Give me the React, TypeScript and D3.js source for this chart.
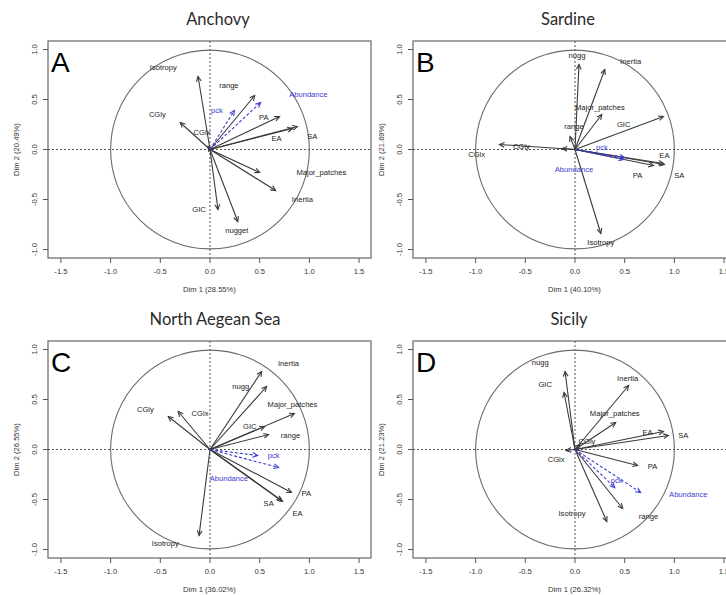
import React from "react";
import * as d3 from "d3";

// Variable factor maps (PCA correlation circles) for four sub-areas.
// Each row: name, arrow tip (Dim1, Dim2), label position (Dim1, Dim2).
type Row = [string, number, number, number, number];

const ANCHOVY: Row[] = [
  ["Isotropy", -0.12, 0.73, -0.47, 0.82],
  ["range", 0.45, 0.54, 0.19, 0.64],
  ["CGly", -0.30, 0.27, -0.53, 0.35],
  ["CGlx", -0.02, 0.03, -0.08, 0.17],
  ["PA", 0.70, 0.33, 0.54, 0.32],
  ["EA", 0.83, 0.21, 0.67, 0.11],
  ["SA", 0.88, 0.23, 1.03, 0.13],
  ["Major_patches", 0.50, -0.23, 1.12, -0.23],
  ["Inertia", 0.66, -0.41, 0.93, -0.50],
  ["GIC", 0.08, -0.60, -0.11, -0.60],
  ["nugget", 0.28, -0.72, 0.27, -0.81],
];
const ANCHOVY_SUP: Row[] = [
  ["pck", 0.245, 0.39, 0.07, 0.39],
  ["Abundance", 0.51, 0.47, 0.99, 0.55],
];

const SARDINE: Row[] = [
  ["nugg", 0.04, 0.85, 0.02, 0.94],
  ["Inertia", 0.30, 0.80, 0.56, 0.88],
  ["Major_patches", 0.27, 0.35, 0.25, 0.42],
  ["range", -0.05, 0.13, -0.01, 0.23],
  ["GIC", 0.89, 0.33, 0.49, 0.25],
  ["CGly", -0.76, 0.05, -0.54, 0.03],
  ["CGlx", -0.13, 0.01, -0.99, -0.05],
  ["EA", 0.90, -0.15, 0.90, -0.06],
  ["PA", 0.79, -0.16, 0.63, -0.26],
  ["SA", 0.89, -0.14, 1.05, -0.26],
  ["Isotropy", 0.26, -0.84, 0.26, -0.93],
];
const SARDINE_SUP: Row[] = [
  ["pck", 0.49, -0.10, 0.27, 0.02],
  ["Abundance", 0.50, -0.08, -0.01, -0.20],
];

const AEGEAN: Row[] = [
  ["Inertia", 0.52, 0.78, 0.79, 0.86],
  ["nugg", 0.57, 0.63, 0.31, 0.63],
  ["Major_patches", 0.85, 0.36, 0.83, 0.45],
  ["GIC", 0.55, 0.23, 0.40, 0.23],
  ["range", 0.59, 0.15, 0.81, 0.14],
  ["CGly", -0.42, 0.33, -0.65, 0.40],
  ["CGlx", -0.32, 0.38, -0.10, 0.36],
  ["PA", 0.82, -0.43, 0.97, -0.44],
  ["SA", 0.73, -0.52, 0.59, -0.54],
  ["EA", 0.72, -0.51, 0.88, -0.64],
  ["Isotropy", -0.11, -0.86, -0.45, -0.94],
];
const AEGEAN_SUP: Row[] = [
  ["pck", 0.48, -0.06, 0.64, -0.06],
  ["Abundance", 0.69, -0.18, 0.19, -0.29],
];

const SICILY: Row[] = [
  ["nugg", -0.10, 0.78, -0.35, 0.87],
  ["GIC", -0.11, 0.57, -0.30, 0.65],
  ["Inertia", 0.54, 0.64, 0.53, 0.71],
  ["Major_patches", 0.41, 0.27, 0.40, 0.36],
  ["EA", 0.89, 0.18, 0.73, 0.17],
  ["SA", 0.94, 0.14, 1.09, 0.14],
  ["CGly", 0.05, 0.05, 0.12, 0.08],
  ["CGlx", -0.09, -0.01, -0.19, -0.10],
  ["PA", 0.63, -0.16, 0.78, -0.17],
  ["range", 0.48, -0.59, 0.74, -0.67],
  ["Isotropy", 0.32, -0.72, -0.03, -0.64],
];
const SICILY_SUP: Row[] = [
  ["pck", 0.40, -0.38, 0.42, -0.31],
  ["Abundance", 0.66, -0.43, 1.14, -0.45],
];

const TITLES = ["Anchovy", "Sardine", "North Aegean Sea", "Sicily"];
const LETTERS = ["A", "B", "C", "D"];
const DIM1 = ["Dim 1 (28.55%)", "Dim 1 (40.10%)", "Dim 1 (36.02%)", "Dim 1 (26.32%)"];
const DIM2 = ["Dim 2 (20.49%)", "Dim 2 (21.69%)", "Dim 2 (26.55%)", "Dim 2 (21.23%)"];

const X_TICKS = [-1.5, -1.0, -0.5, 0, 0.5, 1.0, 1.5];
const X_TICK_LABELS = ["-1.5", "-1.0", "-0.5", "0.0", "0.5", "1.0", "1.5"];
const Y_TICKS = [-1.0, -0.5, 0, 0.5, 1.0];
const Y_TICK_LABELS = ["-1.0", "-0.5", "0.0", "0.5", "1.0"];

const W = 726;
const H = 595;
const BOX_W = 323;
const BOX_H = 217;
const PANELS = [
  { left: 48, top: 41, titleX: 218, titleY: 25, vars: ANCHOVY, sup: ANCHOVY_SUP },
  { left: 413, top: 41, titleX: 568, titleY: 25, vars: SARDINE, sup: SARDINE_SUP },
  { left: 48, top: 341, titleX: 215, titleY: 325, vars: AEGEAN, sup: AEGEAN_SUP },
  { left: 413, top: 341, titleX: 569, titleY: 325, vars: SICILY, sup: SICILY_SUP },
];

const INK = "#3a3a3a";
const GRID = "#555";
const BLUE = "#3b3bd0";
const FONT = "'Liberation Sans', Arial, sans-serif";
const FS = 7.6;

function arrowHead(x1: number, y1: number, x2: number, y2: number, len = 5.5, ang = Math.PI / 7) {
  const a = Math.atan2(y2 - y1, x2 - x1);
  const p1 = [x2 - len * Math.cos(a - ang), y2 - len * Math.sin(a - ang)];
  const p2 = [x2 - len * Math.cos(a + ang), y2 - len * Math.sin(a + ang)];
  return `M${p1[0]},${p1[1]}L${x2},${y2}L${p2[0]},${p2[1]}`;
}

const Panel: React.FC<{ idx: number }> = ({ idx }) => {
  const p = PANELS[idx];
  const x = d3.scaleLinear().domain([-1.63, 1.62]).range([p.left, p.left + BOX_W]);
  const y = d3.scaleLinear().domain([-1.085, 1.085]).range([p.top + BOX_H, p.top]);
  const bottom = p.top + BOX_H;
  const cx = x(0);
  const cy = y(0);
  const r = x(1) - x(0);

  const drawArrows = (rows: Row[], sup: boolean) =>
    rows.map(([name, vx, vy]) => {
      const tx = x(vx);
      const ty = y(vy);
      const col = sup ? BLUE : INK;
      return (
        <g key={name + (sup ? "s" : "")}>
          <line x1={cx} y1={cy} x2={tx} y2={ty} stroke={col} strokeWidth={1.1}
            strokeDasharray={sup ? "3 2" : undefined} />
          <path d={arrowHead(cx, cy, tx, ty)} fill="none" stroke={col} strokeWidth={1.1} />
        </g>
      );
    });

  const drawLabels = (rows: Row[], sup: boolean) =>
    rows.map(([name, , , lx, ly]) => (
      <text key={"l" + name} x={x(lx)} y={y(ly)} dy="0.35em" textAnchor="middle"
        fontSize={FS} fill={sup ? BLUE : "#222"}>
        {name}
      </text>
    ));

  return (
    <g fontFamily={FONT}>
      <text x={p.titleX} y={p.titleY} textAnchor="middle" fontSize={16.5}
        fontFamily="Lato, 'Open Sans', sans-serif" fill="#2a2a2a">
        {TITLES[idx]}
      </text>

      {/* axes */}
      {X_TICKS.map((t, i) => (
        <g key={"xt" + t}>
          <line x1={x(t)} x2={x(t)} y1={bottom} y2={bottom + 5} stroke={GRID} />
          <text x={x(t)} y={bottom + 16} textAnchor="middle" fontSize={FS} fill="#333">
            {X_TICK_LABELS[i]}
          </text>
        </g>
      ))}
      {Y_TICKS.map((t, i) => (
        <g key={"yt" + t}>
          <line x1={p.left - 5} x2={p.left} y1={y(t)} y2={y(t)} stroke={GRID} />
          <text transform={`translate(${p.left - 11},${y(t)}) rotate(-90)`} textAnchor="middle"
            fontSize={FS} fill="#333">
            {Y_TICK_LABELS[i]}
          </text>
        </g>
      ))}
      <text x={p.left + BOX_W / 2} y={bottom + 34} textAnchor="middle" fontSize={FS} fill="#333">
        {DIM1[idx]}
      </text>
      <text transform={`translate(${p.left - 29},${p.top + BOX_H / 2}) rotate(-90)`}
        textAnchor="middle" fontSize={FS} fill="#333">
        {DIM2[idx]}
      </text>

      <rect x={p.left} y={p.top} width={BOX_W} height={BOX_H} fill="none" stroke="#666" strokeWidth={1.2} />
      <line x1={p.left} x2={p.left + BOX_W} y1={cy} y2={cy} stroke={GRID} strokeDasharray="2 2" />
      <line x1={cx} x2={cx} y1={p.top} y2={bottom} stroke={GRID} strokeDasharray="2 2" />
      <circle cx={cx} cy={cy} r={r} fill="none" stroke="#6a6a6a" strokeWidth={1.1} />

      {drawArrows(p.vars, false)}
      {drawArrows(p.sup, true)}
      {drawLabels(p.vars, false)}
      {drawLabels(p.sup, true)}

      <text x={p.left + 3} y={p.top + 31} fontSize={28} fill="#000"
        fontFamily="'Liberation Sans', Arial, sans-serif">
        {LETTERS[idx]}
      </text>
    </g>
  );
};

export default function App() {
  return (
    <svg width={W} height={H} style={{ position: "absolute", left: 0, top: 0, background: "#fff" }}>
      <rect width={W} height={H} fill="#fff" />
      {PANELS.map((_, i) => (
        <Panel key={i} idx={i} />
      ))}
    </svg>
  );
}
